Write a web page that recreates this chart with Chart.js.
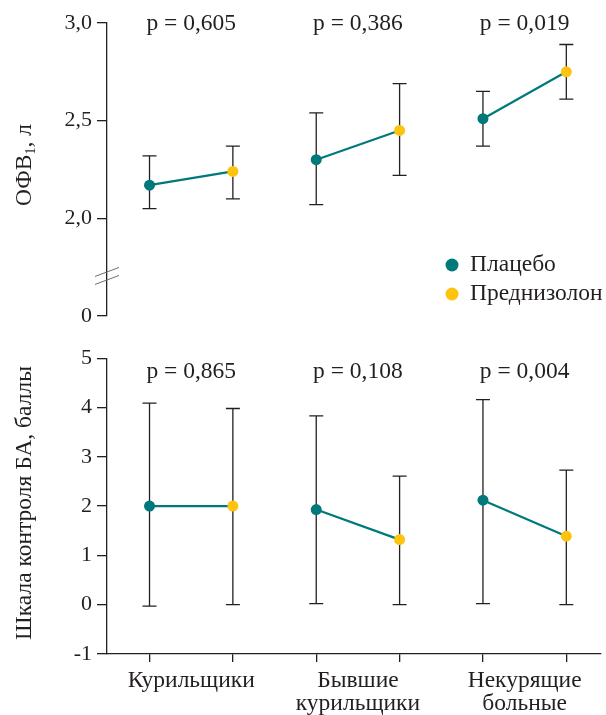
<!DOCTYPE html>
<html>
<head>
<meta charset="utf-8">
<script src="https://cdn.jsdelivr.net/npm/chart.js@4"></script>
<style>
    body { margin: 0; background: #fff; }
    #wrap { position: relative; width: 606px; height: 715px; }
    canvas { position: absolute; left: 0; }
    #topChart { top: 0; }
    #bottomChart { top: 340px; }
</style>
</head>
<body>
<div id="wrap">
    <canvas id="topChart" width="606" height="340"></canvas>
    <canvas id="bottomChart" width="606" height="375"></canvas>
</div>
<script>
const groups = [["Курильщики"], ["Бывшие", "курильщики"], ["Некурящие", "больные"]];
const seriesNames = ["Плацебо", "Преднизолон"];

// ОФВ1, л
const fevPlacebo = [2.17, 2.30, 2.51];
const fevPlaceboLow = [2.05, 2.07, 2.37];
const fevPlaceboHigh = [2.32, 2.54, 2.65];
const fevPred = [2.24, 2.45, 2.75];
const fevPredLow = [2.10, 2.22, 2.61];
const fevPredHigh = [2.37, 2.69, 2.89];
const fevP = ["p = 0,605", "p = 0,386", "p = 0,019"];
const fevTickValues = [1.5, 2.0, 2.5, 3.0];
const fevTickLabels = ["0", "2,0", "2,5", "3,0"];

// шкала контроля БА, баллы
const actPlacebo = [2.0, 1.93, 2.12];
const actPlaceboLow = [-0.03, 0.02, 0.02];
const actPlaceboHigh = [4.09, 3.83, 4.16];
const actPred = [2.0, 1.32, 1.39];
const actPredLow = [0.0, 0.0, 0.0];
const actPredHigh = [3.98, 2.61, 2.73];
const actP = ["p = 0,865", "p = 0,108", "p = 0,004"];

const teal = "#00797b";
const yellow = "#fdc30d";
const ink = "#231f20";
const font = "'Liberation Serif', 'DejaVu Serif', serif";
const fontSize = 23.5;
const tickSize = 22;
const xMin = -0.51;
const xMax = 5.41;

function pairDatasets(placebo, pred) {
    return placebo.map((v, g) => ({
        data: [{ x: g * 2, y: v }, { x: g * 2 + 1, y: pred[g] }],
        borderColor: teal,
        borderWidth: 2.2,
        pointBackgroundColor: [teal, yellow],
        pointBorderWidth: 0,
        pointRadius: 5.5,
        pointHoverRadius: 5.5,
        tension: 0
    }));
}

function errorBarPlugin(lows, highs) {
    return {
        id: "errorBars",
        beforeDatasetsDraw(chart) {
            const ctx = chart.ctx;
            const xs = chart.scales.x;
            const ys = chart.scales.y;
            ctx.save();
            ctx.strokeStyle = ink;
            ctx.lineWidth = 1.3;
            lows.forEach((low, s) => {
                low.forEach((lo, g) => {
                    const x = xs.getPixelForValue(g * 2 + s);
                    const y1 = ys.getPixelForValue(lo);
                    const y2 = ys.getPixelForValue(highs[s][g]);
                    ctx.beginPath();
                    ctx.moveTo(x, y1); ctx.lineTo(x, y2);
                    ctx.moveTo(x - 7, y1); ctx.lineTo(x + 7, y1);
                    ctx.moveTo(x - 7, y2); ctx.lineTo(x + 7, y2);
                    ctx.stroke();
                });
            });
            ctx.restore();
        }
    };
}

function pLabelPlugin(labels, yValue) {
    return {
        id: "pLabels",
        afterDraw(chart) {
            const ctx = chart.ctx;
            ctx.save();
            ctx.font = fontSize + "px " + font;
            ctx.fillStyle = ink;
            ctx.textAlign = "center";
            ctx.textBaseline = "middle";
            labels.forEach((t, g) => {
                ctx.fillText(t, chart.scales.x.getPixelForValue(g * 2 + 0.5), chart.scales.y.getPixelForValue(yValue));
            });
            ctx.restore();
        }
    };
}

// повернутый заголовок оси, с подстрочной частью
function axisTitlePlugin(parts, cx, cy) {
    return {
        id: "axisTitle",
        afterDraw(chart) {
            const ctx = chart.ctx;
            ctx.save();
            ctx.translate(cx, cy);
            ctx.rotate(-Math.PI / 2);
            ctx.fillStyle = ink;
            ctx.textBaseline = "middle";
            let total = 0;
            parts.forEach(p => {
                ctx.font = (p.sub ? 14 : fontSize) + "px " + font;
                total += ctx.measureText(p.text).width;
            });
            let x = -total / 2;
            parts.forEach(p => {
                ctx.font = (p.sub ? 14 : fontSize) + "px " + font;
                ctx.fillText(p.text, x, p.sub ? 6 : 0);
                x += ctx.measureText(p.text).width;
            });
            ctx.restore();
        }
    };
}

const breakPlugin = {
    id: "axisBreak",
    afterDraw(chart) {
        const ctx = chart.ctx;
        const x = chart.scales.x.left;
        const y = chart.scales.y.getPixelForValue(1.705);
        ctx.save();
        ctx.strokeStyle = "#6d6d6d";
        ctx.lineWidth = 1;
        [-4, 4].forEach(d => {
            ctx.beginPath();
            ctx.moveTo(x - 12, y + d + 4.5);
            ctx.lineTo(x + 12, y + d - 4.5);
            ctx.stroke();
        });
        ctx.restore();
    }
};

const legendPlugin = {
    id: "customLegend",
    afterDraw(chart) {
        const ctx = chart.ctx;
        ctx.save();
        ctx.font = fontSize + "px " + font;
        ctx.textBaseline = "middle";
        [teal, yellow].forEach((c, i) => {
            const y = 265 + i * 29;
            ctx.fillStyle = c;
            ctx.beginPath();
            ctx.arc(452, y, 6.5, 0, Math.PI * 2);
            ctx.fill();
            ctx.fillStyle = ink;
            ctx.fillText(seriesNames[i], 470, y);
        });
        ctx.restore();
    }
};

function yAxis(extra) {
    return Object.assign({
        afterFit: scale => { scale.width = 107; },
        border: { display: true, color: ink, width: 1.3 },
        grid: { drawOnChartArea: false, drawTicks: true, tickLength: 10, color: ink, lineWidth: 1.3 }
    }, extra);
}

Chart.defaults.animation = false;
Chart.defaults.font.family = font;

new Chart(document.getElementById("topChart"), {
    type: "line",
    data: { datasets: pairDatasets(fevPlacebo, fevPred) },
    options: {
        responsive: false,
        devicePixelRatio: 1,
        layout: { padding: { top: 23, bottom: 24, right: 0, left: 0 } },
        plugins: { legend: { display: false }, tooltip: { enabled: false } },
        scales: {
            x: { type: "linear", min: xMin, max: xMax, display: false },
            y: yAxis({
                min: 1.5,
                max: 3.0,
                afterBuildTicks: scale => { scale.ticks = fevTickValues.map(v => ({ value: v })); },
                ticks: {
                    color: ink, padding: 5, font: { family: font, size: tickSize },
                    callback: (v, i) => fevTickLabels[i]
                }
            })
        }
    },
    plugins: [
        errorBarPlugin([fevPlaceboLow, fevPredLow], [fevPlaceboHigh, fevPredHigh]),
        pLabelPlugin(fevP, 2.995),
        axisTitlePlugin([{ text: "ОФВ" }, { text: "1", sub: true }, { text: ", л" }], 25, 165),
        breakPlugin,
        legendPlugin
    ]
});

// тики: точки на 0..5, подписи групп посередине пар
const xTickValues = [0, 0.5, 1, 2, 2.5, 3, 4, 4.5, 5];

new Chart(document.getElementById("bottomChart"), {
    type: "line",
    data: { datasets: pairDatasets(actPlacebo, actPred) },
    options: {
        responsive: false,
        devicePixelRatio: 1,
        layout: { padding: { top: 12, bottom: 0, right: 0, left: 0 } },
        plugins: { legend: { display: false }, tooltip: { enabled: false } },
        scales: {
            x: {
                type: "linear",
                min: xMin,
                max: xMax,
                afterFit: scale => { scale.height = 61; },
                afterBuildTicks: scale => { scale.ticks = xTickValues.map(v => ({ value: v })); },
                border: { display: true, color: ink, width: 1.3 },
                grid: {
                    drawOnChartArea: false,
                    tickLength: 8,
                    lineWidth: 1.3,
                    tickColor: c => (c.tick && c.tick.value % 1 !== 0) ? "rgba(0,0,0,0)" : ink
                },
                ticks: {
                    color: ink,
                    autoSkip: false,
                    maxRotation: 0,
                    padding: 7,
                    font: { family: font, size: fontSize, lineHeight: 1.0 },
                    callback: v => (v % 1 !== 0) ? groups[Math.floor(v / 2)] : ""
                }
            },
            y: yAxis({
                min: -1,
                max: 5,
                ticks: { color: ink, padding: 5, stepSize: 1, font: { family: font, size: tickSize } }
            })
        }
    },
    plugins: [
        errorBarPlugin([actPlaceboLow, actPredLow], [actPlaceboHigh, actPredHigh]),
        pLabelPlugin(actP, 4.73),
        axisTitlePlugin([{ text: "Шкала контроля БА, баллы" }], 25, 163)
    ]
});
</script>
</body>
</html>
